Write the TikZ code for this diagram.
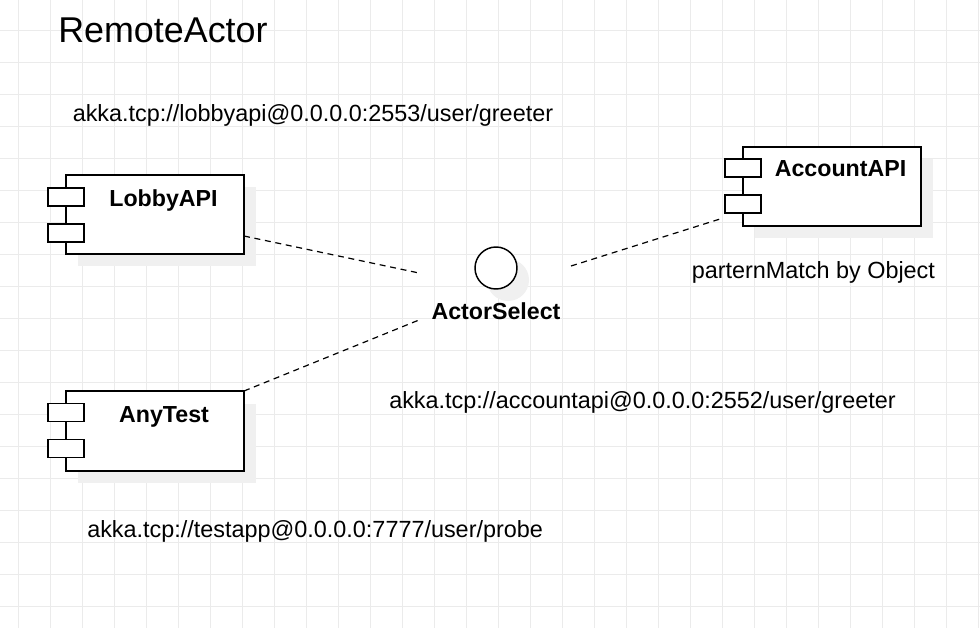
\documentclass[tikz,border=0pt]{standalone}
\usepackage{fontspec}
\setmainfont{Liberation Sans}
\begin{document}
\begin{tikzpicture}[x=0.75pt,y=-0.75pt,
  gridline/.style={draw=black!8, line width=0.75pt},
  shadowbox/.style={fill=black!6, draw=none, minimum width=133.5pt, minimum height=59.25pt, inner sep=0pt, outer sep=0pt},
  comp/.style={draw=black, fill=white, line width=1.1pt, minimum width=133.5pt, minimum height=59.25pt, inner sep=0pt, outer sep=0pt},
  port/.style={draw=black, fill=white, line width=1.1pt, minimum width=27pt, minimum height=13.5pt, inner sep=0pt, outer sep=0pt},
  iface/.style={circle, draw=black, fill=white, line width=1.1pt, minimum size=31.5pt, inner sep=0pt, outer sep=0pt},
  ifaceshadow/.style={circle, fill=black!6, draw=none, minimum size=31.5pt, inner sep=0pt},
  lbl/.style={font=\fontsize{17.4}{20}\selectfont\bfseries, anchor=base, inner sep=0pt},
  txt/.style={font=\fontsize{17.55}{20}\selectfont, anchor=base west, inner sep=0pt},
  conn/.style={draw=black, line width=0.9pt, dash pattern=on 4.5pt off 3.5pt}
]
\useasboundingbox (0,0) rectangle (980,628);
\fill[white] (0,0) rectangle (980,628);
% grid
\foreach \x in {18,50,...,978} \draw[gridline] (\x,0) -- (\x,628);
\foreach \y in {30,62,...,628} \draw[gridline] (0,\y) -- (980,\y);

% title
\node[font=\fontsize{26.9}{30}\selectfont, anchor=base west, inner sep=0pt] (title) at (58,42) {RemoteActor};

% LobbyAPI
\node[shadowbox] (lobbysh) at (167,226.5) {};
\node[comp] (lobby) at (155,214.5) {};
\node[port] (lobbyp1) at (66,197) {};
\node[port] (lobbyp2) at (66,233) {};
\node[lbl] (lobbyl) at (163.5,206) {LobbyAPI};

% AccountAPI
\node[shadowbox] (accsh) at (844,198.5) {};
\node[comp] (acc) at (832,186.5) {};
\node[port] (accp1) at (743,168) {};
\node[port] (accp2) at (743,204) {};
\node[lbl] (accl) at (840.5,176.5) {AccountAPI};

% AnyTest
\node[shadowbox] (anysh) at (167,443) {};
\node[comp, minimum height=60pt] (any) at (155,431) {};
\node[port] (anyp1) at (66,412.5) {};
\node[port] (anyp2) at (66,448.5) {};
\node[lbl] (anyl) at (164,422) {AnyTest};

% ActorSelect
\node[ifaceshadow] (selsh) at (508,280) {};
\node[iface] (sel) at (496,268) {};
\node[lbl] (sell) at (496,319) {ActorSelect};

% texts
\node[txt] (t1) at (72.5,121) {akka.tcp://lobbyapi@0.0.0.0:2553/user/greeter};
\node[txt] (t2) at (691.5,278) {parternMatch by Object};
\node[txt] (t3) at (389,408) {akka.tcp://accountapi@0.0.0.0:2552/user/greeter};
\node[txt] (t4) at (87,537) {akka.tcp://testapp@0.0.0.0:7777/user/probe};

% connectors
\coordinate (c1a) at (244,236);
\coordinate (c1b) at (419,273);
\coordinate (c2b) at (419,320);
\coordinate (c3a) at (571,266);
\coordinate (c3b) at (720,219);
\draw[conn] (c1a) -- (c1b);
\draw[conn] (any.north east) -- (c2b);
\draw[conn] (c3a) -- (c3b);
\end{tikzpicture}
\end{document}
